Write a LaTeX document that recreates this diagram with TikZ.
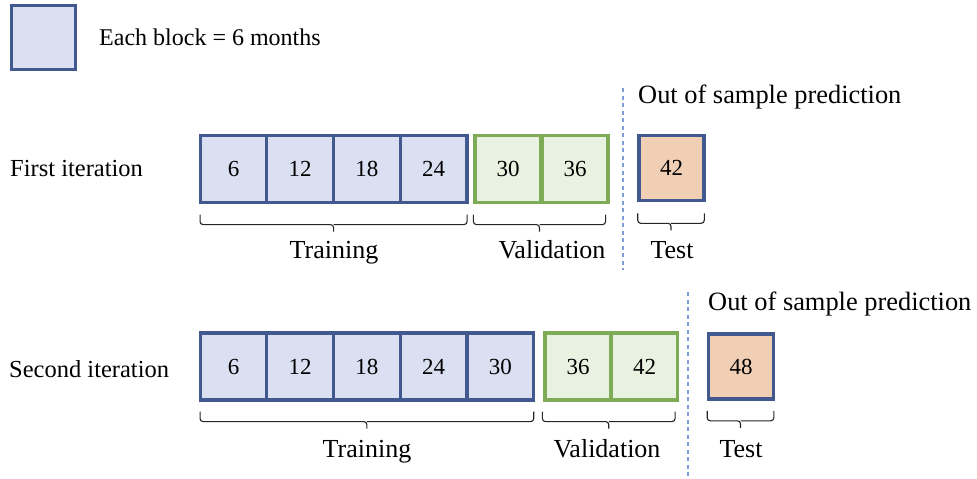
\documentclass[tikz,border=0pt]{standalone}
\usepackage{fontspec}
\setmainfont{Liberation Serif}
\usetikzlibrary{calc}
\definecolor{blueedge}{HTML}{41598F}
\definecolor{bluefill}{HTML}{DAE0F1}
\definecolor{greenedge}{HTML}{7EAB55}
\definecolor{greenfill}{HTML}{E9F1E0}
\definecolor{orangefill}{HTML}{F1CFB5}
\definecolor{dashblue}{HTML}{7F9DD6}
\newcommand{\bracketbetween}[2]{%
  \draw[brk] (#1) -- ++(0,10) -- ($(#1)!0.5!(#2)+(0,10)$) -- ++(0,7);
  \draw[brk] (#2) -- ++(0,10) -- ($(#1)!0.5!(#2)+(0,10)$);
}
\begin{document}
\begin{tikzpicture}[x=1pt,y=-1pt,
  blk/.style={draw=blueedge,fill=bluefill,line width=3.2pt,minimum width=66.7pt,minimum height=67pt,inner sep=0pt,font=\fontsize{23}{27}\selectfont},
  gblk/.style={draw=greenedge,fill=greenfill,line width=3.2pt,minimum width=66pt,minimum height=67pt,inner sep=0pt,font=\fontsize{23}{27}\selectfont},
  tblk/.style={draw=blueedge,fill=orangefill,line width=3.6pt,minimum width=65pt,minimum height=65pt,inner sep=0pt,font=\fontsize{23}{27}\selectfont},
  brk/.style={draw=black!85,line width=1.1pt,rounded corners=3pt},
  lab/.style={anchor=base,inner sep=0pt,font=\fontsize{26}{30}\selectfont},
  rowlab/.style={anchor=base west,inner sep=0pt,font=\fontsize{24.5}{28}\selectfont},
  outlab/.style={anchor=base west,inner sep=0pt,font=\fontsize{26.4}{30}\selectfont},
  sep/.style={draw=dashblue,line width=1.4pt,dash pattern=on 4pt off 3.5pt}]
\useasboundingbox (0,0) rectangle (977,479);

% legend
\node[blk,minimum width=64pt,minimum height=64pt] (leg) at (43.5,37.5) {};
\node[rowlab,font=\fontsize{24}{28}\selectfont] (legt) at (99,45) {Each block = 6 months};

% first iteration
\node[rowlab] (r1) at (10,176) {First iteration};
\node[blk] (a1) at (233.5,169) {6};
\node[blk] (a2) at (300.2,169) {12};
\node[blk] (a3) at (366.9,169) {18};
\node[blk] (a4) at (433.6,169) {24};
\node[gblk] (av1) at (508,169) {30};
\node[gblk] (av2) at (575,169) {36};
\node[tblk] (at) at (671.5,168) {42};

\coordinate (d1t) at (623,88);
\coordinate (d1b) at (623,270);
\draw[sep] (d1t) -- (d1b);
\node[outlab] (o1) at (638,103) {Out of sample prediction};

\coordinate (b1l) at ($(a1.south west)+(1.5,10.5)$);
\coordinate (b1r) at ($(a4.south east)+(-1.5,10.5)$);
\bracketbetween{b1l}{b1r}
\coordinate (v1l) at ($(av1.south west)+(0,10.5)$);
\coordinate (v1r) at ($(av2.south east)+(-4,10.5)$);
\bracketbetween{v1l}{v1r}
\coordinate (t1l) at ($(at.south west)+(0.5,11)$);
\coordinate (t1r) at ($(at.south east)+(-1.5,11)$);
\bracketbetween{t1l}{t1r}
\node[lab] (tr1) at (334,258) {Training};
\node[lab] (va1) at (552,258) {Validation};
\node[lab] (te1) at (672,258) {Test};

% second iteration
\node[rowlab] (r2) at (9,377) {Second iteration};
\node[blk] (c1) at (233.5,366.5) {6};
\node[blk] (c2) at (300.2,366.5) {12};
\node[blk] (c3) at (366.9,366.5) {18};
\node[blk] (c4) at (433.6,366.5) {24};
\node[blk] (c5) at (500.3,366.5) {30};
\node[gblk] (cv1) at (578,366.5) {36};
\node[gblk] (cv2) at (644.5,366.5) {42};
\node[tblk] (ct) at (741,366.5) {48};

\coordinate (d2t) at (688,292);
\coordinate (d2b) at (688,476);
\draw[sep] (d2t) -- (d2b);
\node[outlab] (o2) at (708,310) {Out of sample prediction};

\coordinate (b2l) at ($(c1.south west)+(1.5,10)$);
\coordinate (b2r) at ($(c5.south east)+(-1.5,10)$);
\bracketbetween{b2l}{b2r}
\coordinate (v2l) at ($(cv1.south west)+(-1,10)$);
\coordinate (v2r) at ($(cv2.south east)+(-4,10)$);
\bracketbetween{v2l}{v2r}
\coordinate (t2l) at ($(ct.south west)+(0.5,10)$);
\coordinate (t2r) at ($(ct.south east)+(-1.5,10)$);
\bracketbetween{t2l}{t2r}
\node[lab] (tr2) at (367,457) {Training};
\node[lab] (va2) at (607,457) {Validation};
\node[lab] (te2) at (741,457) {Test};
\end{tikzpicture}
\end{document}
